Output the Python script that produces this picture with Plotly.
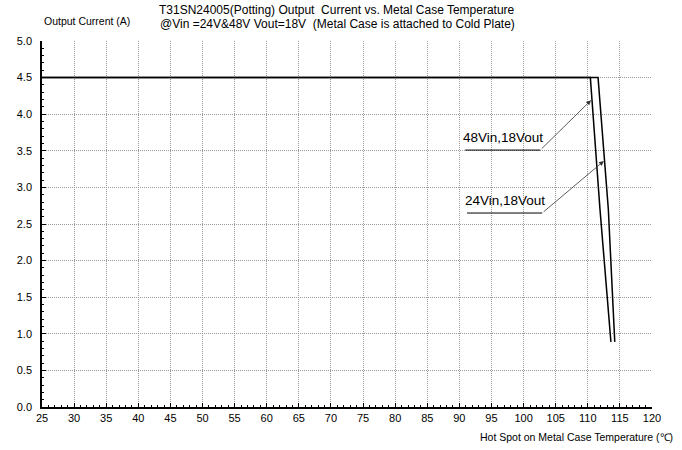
import plotly.graph_objects as go

# derating curves
temp_48v = [25, 110.4, 111.9, 113.6]
current_48v = [4.5, 4.5, 2.7, 0.89]
temp_24v = [25, 111.6, 113.2, 114.2]
current_24v = [4.5, 4.5, 2.7, 0.89]

x_ticks = list(range(25, 121, 5))
y_ticks = [0.0, 0.5, 1.0, 1.5, 2.0, 2.5, 3.0, 3.5, 4.0, 4.5, 5.0]

# callout labels: text, underline start/end, arrow tip
callout_text = ["48Vin,18Vout", "24Vin,18Vout"]
callout_x0 = [90.9, 91.2]
callout_x1 = [102.6, 102.9]
callout_y = [3.51, 2.65]
callout_tip_x = [110.5, 112.5]
callout_tip_y = [4.19, 3.36]

title_lines = [
    "T31SN24005(Potting) Output  Current vs. Metal Case Temperature",
    "@Vin =24V&48V Vout=18V  (Metal Case is attached to Cold Plate)",
]

FONT = "Liberation Sans, Arial, sans-serif"

fig = go.Figure()
for temps, currents in [(temp_48v, current_48v), (temp_24v, current_24v)]:
    fig.add_trace(
        go.Scatter(
            x=temps,
            y=currents,
            mode="lines",
            line={"color": "#000000", "width": 1.5},
            showlegend=False,
            hoverinfo="skip",
        )
    )

for text, x0, x1, y, tx, ty in zip(callout_text, callout_x0, callout_x1, callout_y, callout_tip_x, callout_tip_y):
    fig.add_trace(
        go.Scatter(
            x=[x0, x1],
            y=[y, y],
            mode="lines",
            line={"color": "#000000", "width": 1},
            showlegend=False,
            hoverinfo="skip",
        )
    )
    fig.add_annotation(
        x=tx, y=ty, ax=x1, ay=y, xref="x", yref="y", axref="x", ayref="y",
        text="", showarrow=True, arrowhead=2, arrowsize=1.2, arrowwidth=0.8, arrowcolor="#333333",
    )
    fig.add_annotation(
        x=(x0 + x1) / 2, y=y, xref="x", yref="y", yanchor="bottom", yshift=3,
        text=text, showarrow=False, font={"family": FONT, "size": 13.5, "color": "#000000"},
    )

for line, shift in zip(title_lines, [31, 17]):
    fig.add_annotation(
        x=0.484, y=1.0, xref="paper", yref="paper", yanchor="middle", yshift=shift, xanchor="center",
        text=line, showarrow=False, font={"family": FONT, "size": 12, "color": "#000000"},
    )
fig.add_annotation(
    x=0.0, y=1.0, xref="paper", yref="paper", xanchor="left", yanchor="middle", yshift=20,
    text="Output Current (A)", showarrow=False, font={"family": FONT, "size": 10.5, "color": "#000000"},
)
fig.add_annotation(
    x=1.0, y=0.0, xref="paper", yref="paper", xanchor="right", yanchor="middle", xshift=23, yshift=-30,
    text="Hot Spot on Metal Case Temperature (℃)", showarrow=False,
    font={"family": FONT, "size": 10.5, "color": "#000000"},
)

grid_style = {"showgrid": True, "gridcolor": "#9a9a9a", "griddash": "1px,1px", "gridwidth": 1}

fig.update_xaxes(
    range=[25, 120],
    tickvals=x_ticks,
    ticks="inside",
    ticklen=4,
    tickcolor="#000000",
    minor={"dtick": 1, "ticks": "inside", "ticklen": 2, "tickcolor": "#000000", "showgrid": False},
    showline=True,
    linecolor="#000000",
    linewidth=1.5,
    zeroline=False,
    tickfont={"family": FONT, "size": 11, "color": "#000000"},
    **grid_style,
)
fig.update_yaxes(
    range=[0, 5],
    tickvals=y_ticks,
    tickformat=".1f",
    ticks="inside",
    ticklen=4,
    tickcolor="#000000",
    minor={"dtick": 0.1, "ticks": "inside", "ticklen": 2, "tickcolor": "#000000", "showgrid": False},
    showline=True,
    linecolor="#000000",
    linewidth=1.5,
    zeroline=False,
    ticklabelstandoff=6,
    tickfont={"family": FONT, "size": 11, "color": "#000000"},
    **grid_style,
)
fig.update_layout(
    width=682,
    height=450,
    margin={"l": 42, "r": 30, "t": 41, "b": 43},
    paper_bgcolor="#ffffff",
    plot_bgcolor="#ffffff",
    showlegend=False,
)
# drop the default 8px body margin so the figure fills the window
fig.write_html(
    "out.html",
    config={"displayModeBar": False},
    post_script="document.body.style.margin='0';",
)
